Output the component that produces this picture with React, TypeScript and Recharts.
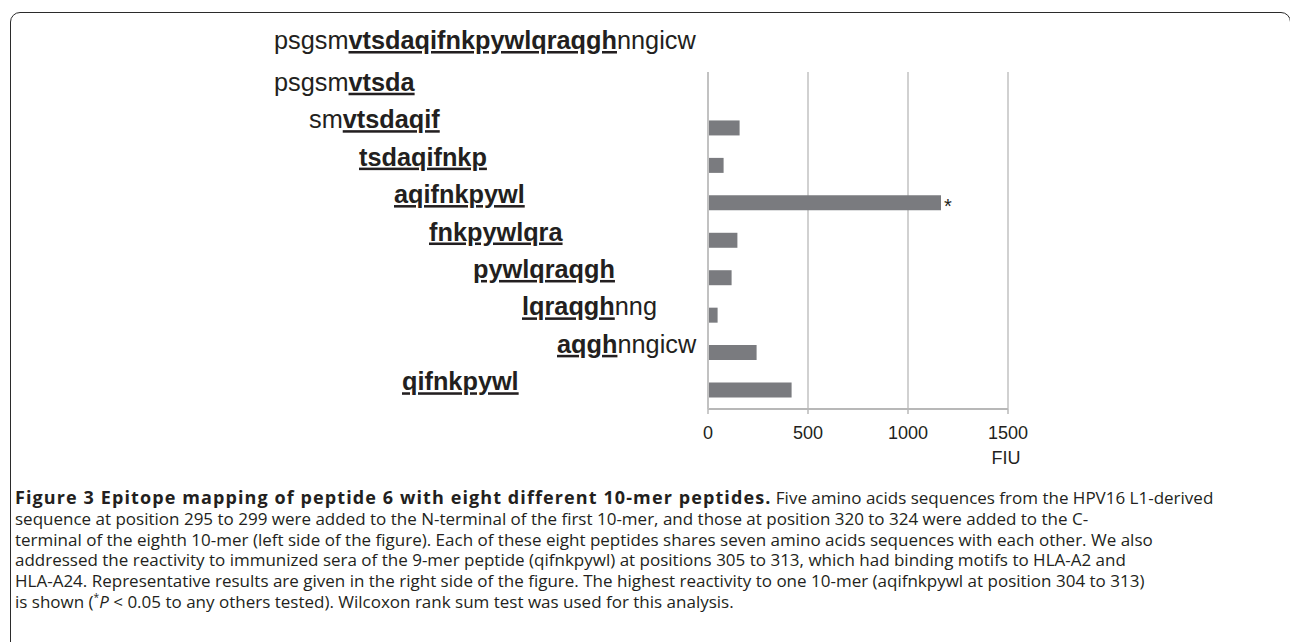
import React from "react";
import {
  BarChart,
  Bar,
  XAxis,
  YAxis,
  CartesianGrid,
  LabelList,
} from "recharts";

// peptides (top to bottom): plain prefix, bold+underlined core, plain suffix
const prefixes = ["psgsm", "sm", "", "", "", "", "", "", ""];
const cores = [
  "vtsda",
  "vtsdaqif",
  "tsdaqifnkp",
  "aqifnkpywl",
  "fnkpywlqra",
  "pywlqraqgh",
  "lqraqgh",
  "aqgh",
  "qifnkpywl",
];
const suffixes = ["", "", "", "", "", "", "nng", "nngicw", ""];
const fiu = [5, 158, 78, 1165, 147, 118, 48, 243, 418];
const marks = ["", "", "", "*", "", "", "", "", ""];
const xTicks = [0, 500, 1000, 1500];

const header = { pre: "psgsm", core: "vtsdaqifnkpywlqraqgh", post: "nngicw" };

const names = cores.map((c, i) => prefixes[i] + c + suffixes[i]);
const data = names.map((name, i) => ({ name, fiu: fiu[i], mark: marks[i] }));

// left edge of each row label, staggered to line up with the parent sequence
const labelIndent = [274, 309, 359, 394, 429, 473, 522, 557, 402];

const ink = "#231f20";
const sans = "'Liberation Sans', Arial, Helvetica, sans-serif";

function PeptideTick({ y, payload }: any) {
  const i = names.indexOf(payload.value);
  if (i < 0) return null;
  return (
    <text x={labelIndent[i]} y={y} fontFamily={sans} fontSize={25.3} fill={ink}>
      {prefixes[i] && <tspan>{prefixes[i]}</tspan>}
      <tspan fontWeight="bold" style={{ textDecoration: "underline" }}>
        {cores[i]}
      </tspan>
      {suffixes[i] && <tspan>{suffixes[i]}</tspan>}
    </text>
  );
}

function StarLabel({ x, y, width, height, value }: any) {
  if (!value) return null;
  return (
    <text
      x={x + width + 3}
      y={y + height / 2 + 10}
      fontFamily={sans}
      fontSize={20}
      fill={ink}
    >
      {value}
    </text>
  );
}

const captionLines: React.ReactNode[] = [
  <>
    <b style={{ letterSpacing: "1.1px", fontSize: 18 }}>
      Figure 3 Epitope mapping of peptide 6 with eight different 10-mer
      peptides.
    </b>{" "}
    Five amino acids sequences from the HPV16 L1-derived
  </>,
  "sequence at position 295 to 299 were added to the N-terminal of the first 10-mer, and those at position 320 to 324 were added to the C-",
  "terminal of the eighth 10-mer (left side of the figure). Each of these eight peptides shares seven amino acids sequences with each other. We also",
  "addressed the reactivity to immunized sera of the 9-mer peptide (qifnkpywl) at positions 305 to 313, which had binding motifs to HLA-A2 and",
  "HLA-A24. Representative results are given in the right side of the figure. The highest reactivity to one 10-mer (aqifnkpywl at position 304 to 313)",
  <>
    is shown (<sup style={{ fontSize: "0.6em", lineHeight: 0 }}>*</sup>
    <i>P</i> &lt; 0.05 to any others tested). Wilcoxon rank sum test was used
    for this analysis.
  </>,
];

export default function App() {
  return (
    <div
      style={{
        position: "fixed",
        left: 0,
        top: 0,
        width: 1290,
        height: 642,
        overflow: "hidden",
        background: "#fff",
      }}
    >
      <div
        style={{
          position: "absolute",
          left: 10,
          top: 12,
          width: 1281,
          height: 700,
          boxSizing: "border-box",
          border: "1.5px solid #2b2b2b",
          borderTopLeftRadius: 10,
          borderTopRightRadius: 10,
        }}
      />
      <div style={{ position: "absolute", left: 0, top: 0 }}>
        <BarChart
          width={1290}
          height={470}
          data={data}
          layout="vertical"
          margin={{ top: 72, right: 282, bottom: 0, left: 0 }}
        >
          <CartesianGrid vertical horizontal={false} stroke="#a3a3a3" />
          <XAxis
            type="number"
            domain={[0, 1500]}
            ticks={xTicks}
            height={61}
            axisLine={{ stroke: "#b8b8b8", strokeWidth: 2 }}
            tickLine={{ stroke: "#b8b8b8", strokeWidth: 1.5 }}
            tickSize={5}
            tickMargin={12}
            tick={{ fontFamily: sans, fontSize: 18, fill: ink }}
          />
          <YAxis
            type="category"
            dataKey="name"
            width={708}
            interval={0}
            axisLine={{ stroke: "#c2c2c2", strokeWidth: 2 }}
            tickLine={false}
            tick={<PeptideTick />}
          />
          <Bar dataKey="fiu" fill="#7a7b7f" barSize={15} isAnimationActive={false}>
            <LabelList dataKey="mark" content={<StarLabel />} />
          </Bar>
        </BarChart>
      </div>
      <svg
        width={1290}
        height={642}
        style={{ position: "absolute", left: 0, top: 0, pointerEvents: "none" }}
      >
        <text x={274} y={49} fontFamily={sans} fontSize={25.3} fill={ink}>
          <tspan>{header.pre}</tspan>
          <tspan fontWeight="bold" style={{ textDecoration: "underline" }}>
            {header.core}
          </tspan>
          <tspan>{header.post}</tspan>
        </text>
        <text
          x={1006}
          y={464}
          textAnchor="middle"
          fontFamily={sans}
          fontSize={18}
          fill={ink}
        >
          FIU
        </text>
      </svg>
      <div
        style={{
          position: "absolute",
          left: 15,
          top: 487,
          fontFamily: "'Open Sans', 'Noto Sans', sans-serif",
          fontSize: 17,
          lineHeight: "20.8px",
          color: ink,
        }}
      >
        {captionLines.map((line, i) => (
          <div key={i} style={{ whiteSpace: "nowrap" }}>
            {line}
          </div>
        ))}
      </div>
    </div>
  );
}
